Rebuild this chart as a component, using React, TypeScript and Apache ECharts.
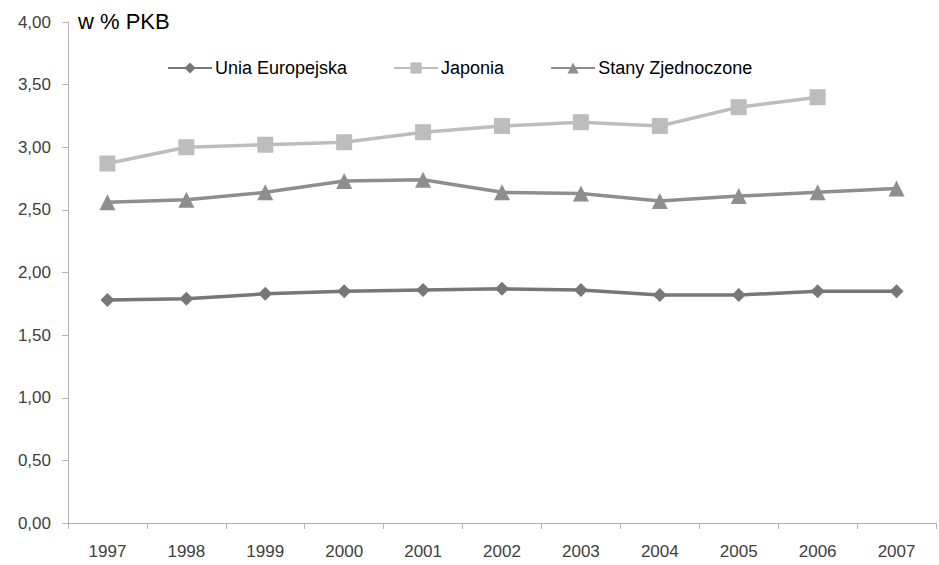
import React, { useEffect, useRef } from "react";
import * as echarts from "echarts";

const years = ["1997", "1998", "1999", "2000", "2001", "2002", "2003", "2004", "2005", "2006", "2007"];
const euValues = [1.78, 1.79, 1.83, 1.85, 1.86, 1.87, 1.86, 1.82, 1.82, 1.85, 1.85];
const japanValues = [2.87, 3.0, 3.02, 3.04, 3.12, 3.17, 3.2, 3.17, 3.32, 3.4, null];
const usValues = [2.56, 2.58, 2.64, 2.73, 2.74, 2.64, 2.63, 2.57, 2.61, 2.64, 2.67];
const seriesNames = ["Unia Europejska", "Japonia", "Stany Zjednoczone"];

export default function App() {
  const ref = useRef<HTMLDivElement>(null);
  useEffect(() => {
    if (!ref.current) return;
    const chart = echarts.init(ref.current, undefined, { renderer: "svg" });
    const font = "'Liberation Sans', Arial, sans-serif";
    chart.setOption({
      animation: false,
      backgroundColor: "#ffffff",
      title: {
        text: "w % PKB",
        left: 78,
        top: 10,
        padding: 0,
        textStyle: { fontFamily: font, fontSize: 22, fontWeight: "normal", color: "#000000" },
      },
      legend: {
        top: 59,
        left: 167,
        padding: 0,
        itemWidth: 44,
        itemHeight: 14,
        itemGap: 46,
        textStyle: { fontFamily: font, fontSize: 18, color: "#000000", padding: [0, 0, 0, -2] },
        data: seriesNames,
      },
      grid: { left: 68, right: 3, top: 22, bottom: 42, containLabel: false },
      xAxis: {
        type: "category",
        data: years,
        boundaryGap: true,
        axisLine: { lineStyle: { color: "#b3b3b3", width: 1 } },
        axisTick: { show: true, length: 6, lineStyle: { color: "#b3b3b3" } },
        axisLabel: { margin: 20, fontFamily: font, fontSize: 17, color: "#404040" },
      },
      yAxis: {
        type: "value",
        min: 0,
        max: 4,
        interval: 0.5,
        splitLine: { show: false },
        axisLine: { show: true, lineStyle: { color: "#b3b3b3", width: 1 } },
        axisTick: { show: true, length: 6, lineStyle: { color: "#b3b3b3" } },
        axisLabel: {
          margin: 17,
          fontFamily: font,
          fontSize: 17,
          color: "#404040",
          formatter: (v: number) => v.toFixed(2).replace(".", ","),
        },
      },
      series: [
        {
          name: seriesNames[0],
          type: "line",
          data: euValues,
          symbol: "diamond",
          symbolSize: 14,
          lineStyle: { width: 3.5, color: "#777777" },
          itemStyle: { color: "#777777" },
        },
        {
          name: seriesNames[1],
          type: "line",
          data: japanValues,
          symbol: "rect",
          symbolSize: 16,
          lineStyle: { width: 3.5, color: "#bdbdbd" },
          itemStyle: { color: "#bdbdbd" },
        },
        {
          name: seriesNames[2],
          type: "line",
          data: usValues,
          symbol: "triangle",
          symbolSize: 16,
          lineStyle: { width: 3.5, color: "#8e8e8e" },
          itemStyle: { color: "#8e8e8e" },
        },
      ],
    });
    return () => chart.dispose();
  }, []);
  return <div ref={ref} style={{ width: 939, height: 565, position: "absolute", left: 0, top: 0 }} />;
}
